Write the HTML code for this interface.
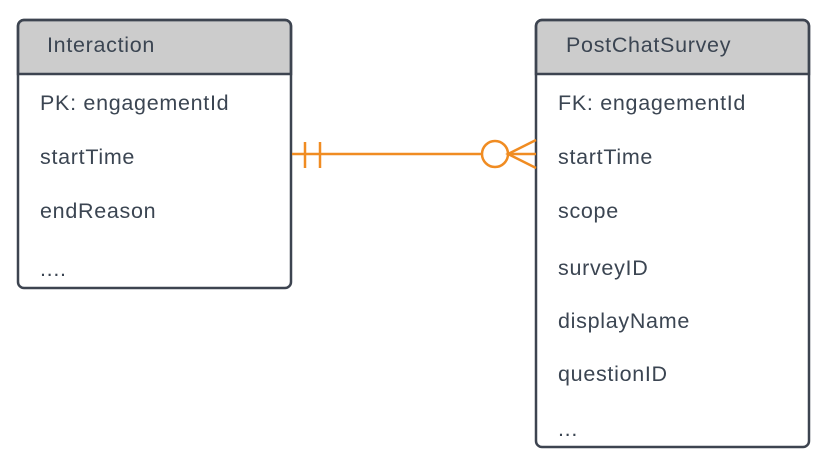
<!DOCTYPE html>
<html><head><meta charset="utf-8"><style>
body{margin:0;background:#fff;width:830px;height:464px;overflow:hidden}
svg text{font-family:"Liberation Sans",sans-serif;font-size:21.5px;letter-spacing:0.7px;fill:#3b4552}
</style></head><body>
<svg width="830" height="464" viewBox="0 0 830 464">
<g stroke="#3d4450" stroke-width="2.5">
<path d="M18,74 V26 a6,6 0 0 1 6,-6 H285 a6,6 0 0 1 6,6 V74 Z" fill="#cccccc"/>
<rect x="18" y="20" width="273" height="268" rx="6" fill="none"/>
<path d="M536,74 V26 a6,6 0 0 1 6,-6 H803 a6,6 0 0 1 6,6 V74 Z" fill="#cccccc"/>
<rect x="536" y="20" width="273" height="427" rx="6" fill="none"/>
</g>
<g stroke="#f08c22" stroke-width="2.5" fill="none">
<line x1="292" y1="154" x2="482" y2="154"/>
<line x1="305" y1="142" x2="305" y2="168"/>
<line x1="320" y1="142" x2="320" y2="168"/>
<circle cx="495" cy="154" r="13"/>
<line x1="508" y1="154" x2="536" y2="154"/>
<path d="M536,140 L508,154 L536,168"/>
</g>
<text x="47" y="52">Interaction</text>
<text x="40" y="110">PK: engagementId</text>
<text x="40" y="164">startTime</text>
<text x="40" y="218">endReason</text>
<text x="40" y="276">....</text>
<text x="566" y="52">PostChatSurvey</text>
<text x="558" y="110">FK: engagementId</text>
<text x="558" y="164">startTime</text>
<text x="558" y="218">scope</text>
<text x="558" y="275">surveyID</text>
<text x="558" y="328">displayName</text>
<text x="558" y="381">questionID</text>
<text x="558" y="436">...</text>
</svg>
</body></html>
